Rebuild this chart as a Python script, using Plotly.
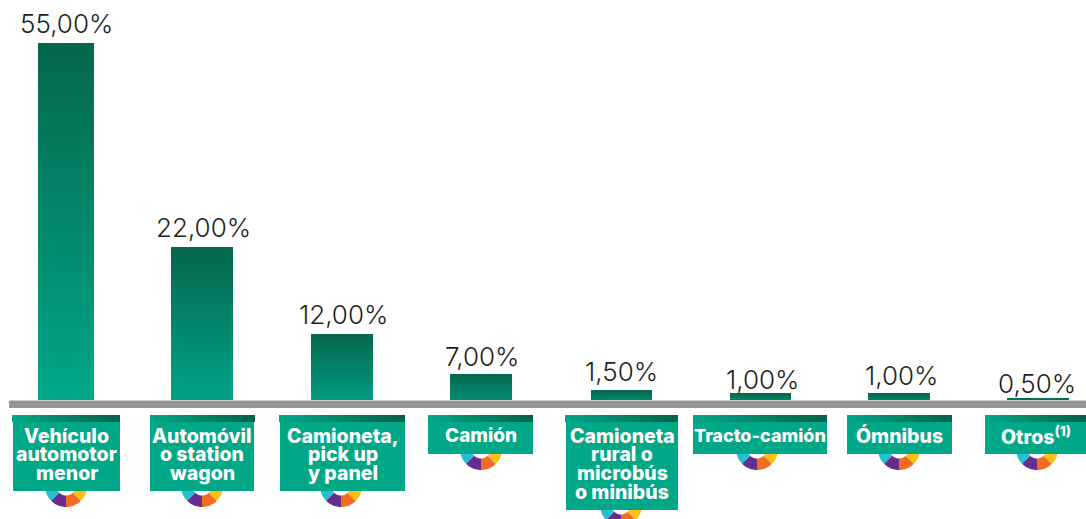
import math
import plotly.graph_objects as go

# ---- data ----
categories = [
    ["Vehículo", "automotor", "menor"],
    ["Automóvil", "o station", "wagon"],
    ["Camioneta,", "pick up", "y panel"],
    ["Camión"],
    ["Camioneta", "rural o", "microbús", "o minibús"],
    ["Tracto-camión"],
    ["Ómnibus"],
    ["Otros<sup>(1)</sup>"],
]
value_labels = ["55,00%", "22,00%", "12,00%", "7,00%", "1,50%", "1,00%", "1,00%", "0,50%"]
bar_heights = [55, 23.66, 10.29, 4.15, 1.69, 1.23, 1.23, 0.46]

# ---- layout (pixels of the 1086x519 canvas) ----
W, H = 1086, 519
BASE_PX = 401
PX_PER_UNIT = 358 / 55
bar_left = [38, 171, 311, 450, 591, 730, 868, 1007]
bar_right = [94, 233, 373, 512, 652, 791, 930, 1069]
bar_bottom_col = ["#00A887", "#00A486", "#009C80", "#008E72", "#008A6C", "#008468", "#008468", "#007A5E"]
label_x = [66, 203, 343, 482, 621, 762, 901, 1037]
label_y = [24, 227, 314, 356, 371, 379, 375, 383]
strip_left = [12, 150, 279, 428, 565, 693, 847, 985]
strip_right = [120, 255, 405, 533, 678, 827, 952, 1086]
box_left = [13, 150, 280, 428, 566, 693, 847, 985]
box_right = [120, 254, 405, 533, 678, 827, 952, 1086]
box_bottom = [491, 491, 491, 454, 510, 454, 454, 454]
box_font = [19.5, 19.5, 19.5, 19, 19.5, 18, 19.5, 19.5]
wheel_x = [66, 202, 341, 481, 621, 757, 899, 1037]
TOP_COL = "#05674E"
TEAL = "#00A887"
STRIP_DARK = "#04604A"
wheel_cols = ["#26BFD0", "#662D91", "#F26B21", "#FDC010"]
wheel_angles = [(-100, -45), (-45, 0), (0, 45), (45, 100)]
FONT = "Inter"


def hex2rgb(c):
    return [int(c[i:i + 2], 16) for i in (1, 3, 5)]


def lerp(a, b, t):
    ra, rb = hex2rgb(a), hex2rgb(b)
    return "rgb({},{},{})".format(*[round(x + (y - x) * t) for x, y in zip(ra, rb)])


def py(px):
    return 1 - px / H


# gradient bars: each bar is a pile of thin slices of its own height
sx, sy, sb, sw, sc = [], [], [], [], []
for h, l, r, bc in zip(bar_heights, bar_left, bar_right, bar_bottom_col):
    n = max(1, math.ceil(h * PX_PER_UNIT / 3))
    for k in range(n):
        sx.append((l + r) / 2)
        sy.append(h / n)
        sb.append(h * k / n)
        sw.append(r - l)
        sc.append(lerp(bc, TOP_COL, (k + 0.5) / n))

fig = go.Figure(go.Bar(x=sx, y=sy, base=sb, width=sw, marker=dict(color=sc, line=dict(width=0)), hoverinfo="skip"))

shapes = []
# axis band
shapes.append(dict(type="rect", xref="x", yref="paper", x0=10, x1=W, y0=py(400), y1=py(401),
                   fillcolor="#C9CACC", line_width=0))
shapes.append(dict(type="rect", xref="x", yref="paper", x0=9, x1=W, y0=py(401), y1=py(408),
                   fillcolor="#939598", line_width=0))

# wheels behind the boxes
def wedge(cx, cy, a0, a1, r0=9.5, r1=21):
    pts = []
    for i in range(13):
        a = math.radians(a0 + (a1 - a0) * i / 12)
        pts.append((cx + r1 * math.sin(a), cy + r1 * math.cos(a)))
    for i in range(12, -1, -1):
        a = math.radians(a0 + (a1 - a0) * i / 12)
        pts.append((cx + r0 * math.sin(a), cy + r0 * math.cos(a)))
    return "M" + " L".join(f"{x:.2f},{py(y):.5f}" for x, y in pts) + " Z"


for cx, bb in zip(wheel_x, box_bottom):
    for (a0, a1), col in zip(wheel_angles, wheel_cols):
        shapes.append(dict(type="path", xref="x", yref="paper", path=wedge(cx, bb - 5, a0, a1),
                           fillcolor=col, line_width=0))

# boxes and their gradient strips
for sl, sr, bl, br, bb in zip(strip_left, strip_right, box_left, box_right, box_bottom):
    shapes.append(dict(type="rect", xref="x", yref="paper", x0=bl, x1=br, y0=py(bb), y1=py(422),
                       fillcolor=TEAL, line_width=0))
    m = 24
    for k in range(m):
        shapes.append(dict(type="rect", xref="x", yref="paper",
                           x0=round(sl + (sr - sl) * k / m), x1=round(sl + (sr - sl) * (k + 1) / m),
                           y0=py(422), y1=py(415),
                           fillcolor=lerp(TEAL, STRIP_DARK, (k + 0.5) / m), line_width=0))

ann = []
for txt, x, y in zip(value_labels, label_x, label_y):
    ann.append(dict(text=txt, x=x, y=py(y), xref="x", yref="paper", showarrow=False,
                    xanchor="center", yanchor="middle",
                    font=dict(family=FONT, size=26, color="#231F20", weight=300)))
for lines, bl, br, fs in zip(categories, box_left, box_right, box_font):
    for i, line in enumerate(lines):
        ann.append(dict(text=line, x=(bl + br) / 2, y=py(435.5 + 18.8 * i), xref="x", yref="paper",
                        showarrow=False, xanchor="center", yanchor="middle",
                        font=dict(family=FONT, size=fs, color="white", weight=800)))

fig.update_layout(
    width=W, height=H, margin=dict(l=0, r=0, t=0, b=0, pad=0),
    paper_bgcolor="white", plot_bgcolor="white", showlegend=False, barmode="overlay", bargap=0,
    xaxis=dict(range=[0, W], visible=False, fixedrange=True),
    yaxis=dict(range=[(BASE_PX - H) / PX_PER_UNIT, BASE_PX / PX_PER_UNIT], visible=False, fixedrange=True),
    shapes=shapes, annotations=ann,
)
fig.write_html("out.html", config={"displayModeBar": False},
               post_script="document.body.style.margin='0';document.documentElement.style.overflow='hidden';")
